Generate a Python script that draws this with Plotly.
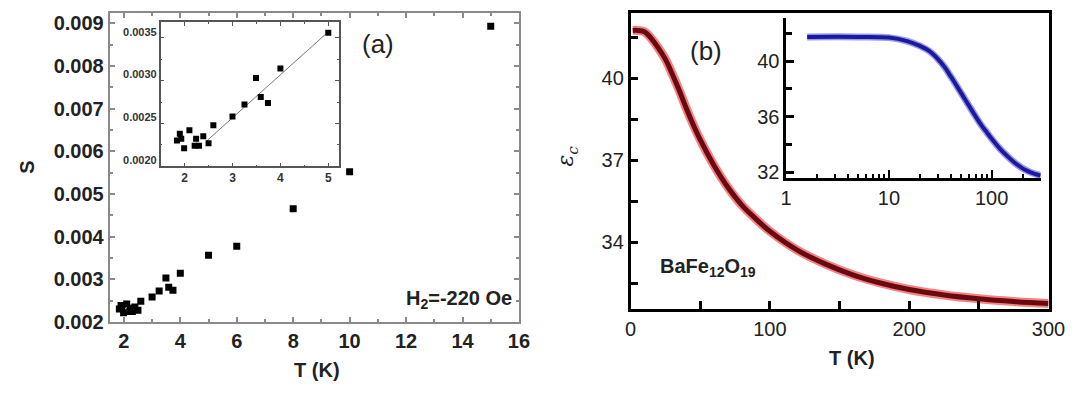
import math
import plotly.graph_objects as go

# ---------------- data ----------------
T_a = [1.84, 1.90, 1.93, 1.99, 2.10, 2.21, 2.24, 2.30, 2.39, 2.50, 2.60, 3.00,
       3.25, 3.49, 3.59, 3.74, 4.00, 5.00, 6.00, 8.00, 10.0, 15.0]
S_a = [0.00230, 0.00238, 0.00232, 0.00221, 0.00242, 0.00224, 0.00232, 0.00224,
       0.00235, 0.00227, 0.00248, 0.00258, 0.00272, 0.00303, 0.00281, 0.00274,
       0.00314, 0.00356, 0.00377, 0.00465, 0.00552, 0.00893]
inset_T_max = 5.0
fit_T = [2.45, 5.0]
fit_S = [0.00229, 0.00357]

T_b = [1.6, 5, 10, 15, 20, 25, 30, 35, 40, 45, 50, 60, 70, 80, 90, 100, 120,
       140, 160, 180, 200, 225, 250, 275, 300]
eps_b = [41.75, 41.75, 41.70, 41.45, 41.10, 40.70, 40.15, 39.55, 38.90, 38.30,
         37.75, 36.80, 36.00, 35.35, 34.85, 34.40, 33.70, 33.20, 32.80, 32.50,
         32.27, 32.07, 31.93, 31.83, 31.76]

W, H = 1090, 397
def px(x):
    return x / W
def py(y):
    return 1 - y / H

FONT = "Liberation Sans, Arial, Helvetica, sans-serif"
GRAY = "#8a8a8a"

fig = go.Figure()

fig.add_trace(go.Scatter(x=T_a, y=S_a, mode="markers",
                         marker=dict(symbol="square", size=7, color="black"),
                         xaxis="x", yaxis="y", hoverinfo="skip"))
ins_T = [t for t in T_a if t <= inset_T_max]
ins_S = [s for t, s in zip(T_a, S_a) if t <= inset_T_max]
fig.add_trace(go.Scatter(x=fit_T, y=fit_S, mode="lines",
                         line=dict(color="#777777", width=1),
                         xaxis="x2", yaxis="y2", hoverinfo="skip"))
fig.add_trace(go.Scatter(x=ins_T, y=ins_S, mode="markers",
                         marker=dict(symbol="square", size=6, color="black"),
                         xaxis="x2", yaxis="y2", hoverinfo="skip"))

fig.add_trace(go.Scatter(x=T_b, y=eps_b, mode="lines",
                         line=dict(color="rgba(235,30,30,0.55)", width=9, shape="spline"),
                         xaxis="x3", yaxis="y3", hoverinfo="skip"))
fig.add_trace(go.Scatter(x=T_b, y=eps_b, mode="lines",
                         line=dict(color="#6a0a10", width=5, shape="spline"),
                         xaxis="x3", yaxis="y3", hoverinfo="skip"))
fig.add_trace(go.Scatter(x=T_b, y=eps_b, mode="lines",
                         line=dict(color="rgba(70,70,235,0.55)", width=7, shape="spline"),
                         xaxis="x4", yaxis="y4", hoverinfo="skip"))
fig.add_trace(go.Scatter(x=T_b, y=eps_b, mode="lines",
                         line=dict(color="#1a1a9a", width=4, shape="spline"),
                         xaxis="x4", yaxis="y4", hoverinfo="skip"))

bold20 = dict(family=FONT, size=20, color="#222", weight="bold")
reg20 = dict(family=FONT, size=20, color="#222")

fig.update_layout(
    width=W, height=H, margin=dict(l=0, r=0, t=0, b=0),
    paper_bgcolor="white", plot_bgcolor="white", showlegend=False,
    xaxis=dict(domain=[px(106), px(524)], range=[1.5, 16], anchor="y",
               tick0=0, dtick=2, ticks="inside", ticklen=5, tickwidth=1.5,
               tickcolor=GRAY, showline=True, linecolor=GRAY, linewidth=2,
               mirror="allticks", showgrid=False, zeroline=False,
               minor=dict(tick0=0, dtick=1, ticks="inside", ticklen=3,
                          tickwidth=1.5, tickcolor=GRAY),
               tickfont=bold20),
    yaxis=dict(domain=[py(331), py(13)], range=[0.002, 0.00925], anchor="x",
               tick0=0, dtick=0.001, tickformat=".3f", ticks="inside",
               ticklen=5, tickwidth=1.5, tickcolor=GRAY, showline=True,
               linecolor=GRAY, linewidth=2, mirror="allticks", showgrid=False,
               zeroline=False,
               minor=dict(tick0=0, dtick=0.0005, ticks="inside", ticklen=3,
                          tickwidth=1.5, tickcolor=GRAY),
               tickfont=bold20),
    xaxis2=dict(domain=[px(158), px(340)], range=[1.5, 5.22], anchor="y2",
                tick0=0, dtick=1, ticks="inside", ticklen=4, tickwidth=1,
                tickcolor="#555", showline=True, linecolor="#555", linewidth=1.5,
                mirror="allticks", showgrid=False, zeroline=False,
                minor=dict(tick0=0, dtick=0.5, ticks="inside", ticklen=2,
                           tickwidth=1, tickcolor="#555"),
                tickfont=dict(family=FONT, size=12, color="#333", weight="bold")),
    yaxis2=dict(domain=[py(171), py(23)], range=[0.0020, 0.00368], anchor="x2",
                tick0=0, dtick=0.0005, tickformat=".4f", ticks="inside",
                ticklen=4, tickwidth=1, tickcolor="#555", showline=True,
                linecolor="#555", linewidth=1.5, mirror="allticks",
                showgrid=False, zeroline=False, ticklabelshift=-6,
                minor=dict(tick0=0, dtick=0.00025, ticks="inside", ticklen=2,
                           tickwidth=1, tickcolor="#555"),
                tickfont=dict(family=FONT, size=11, color="#333", weight="bold")),
    xaxis3=dict(domain=[px(638), px(1065)], range=[0, 300], anchor="y3",
                tick0=0, dtick=100, ticks="inside", ticklen=8, tickwidth=2.5,
                tickcolor="black", showline=True, linecolor="black",
                linewidth=2.5, mirror=True, showgrid=False, zeroline=False,
                minor=dict(tick0=0, dtick=50, ticks="inside", ticklen=8,
                           tickwidth=2.5, tickcolor="black"),
                tickfont=reg20),
    yaxis3=dict(domain=[py(318), py(13)], range=[31.55, 42.4], anchor="x3",
                tick0=34, dtick=3, ticks="inside", ticklen=8, tickwidth=2.5,
                tickcolor="black", showline=True, linecolor="black",
                linewidth=2.5, mirror=True, showgrid=False, zeroline=False,
                minor=dict(tick0=32.5, dtick=1.5, ticks="inside", ticklen=8,
                           tickwidth=2.5, tickcolor="black"),
                tickfont=reg20),
    xaxis4=dict(type="log", domain=[px(797), px(1057)],
                range=[0, math.log10(300)], anchor="y4",
                tickvals=[1, 10, 100], ticktext=["1", "10", "100"],
                ticks="inside", ticklen=8, tickwidth=2, tickcolor="black",
                showline=True, linecolor="black", linewidth=2.5, mirror=False,
                showgrid=False, zeroline=False,
                minor=dict(tickvals=[2, 3, 4, 5, 6, 7, 8, 9, 20, 30, 40, 50, 60,
                                     70, 80, 90, 200, 300],
                           ticks="inside", ticklen=4, tickwidth=2,
                           tickcolor="black"),
                tickfont=reg20),
    yaxis4=dict(domain=[py(183), py(18)], range=[31.58, 43.15], anchor="x4",
                tick0=32, dtick=4, ticks="inside", ticklen=8, tickwidth=2.5,
                tickcolor="black", showline=True, linecolor="black",
                linewidth=2.5, mirror=False, showgrid=False, zeroline=False,
                minor=dict(tick0=0, dtick=2, ticks="inside", ticklen=6,
                           tickwidth=2.5, tickcolor="black"),
                tickfont=reg20),
)

def ann(text, x, y, font, xanchor="center", yanchor="middle", angle=0):
    fig.add_annotation(text=text, x=px(x), y=py(y), xref="paper", yref="paper",
                       showarrow=False, xanchor=xanchor, yanchor=yanchor,
                       textangle=angle, font=font)

ann("S", 22, 172, bold20, angle=-90)
ann("T (K)", 318, 381, bold20)
ann("(a)", 380, 45, dict(family=FONT, size=26, color="#222"))
ann("H<sub>2</sub>=-220 Oe", 519, 308, bold20, xanchor="right")
ann("(b)", 715, 52, dict(family=FONT, size=26, color="#222"))
ann("ε<sub>c</sub>", 574, 160,
    dict(family="DejaVu Serif, serif", size=22, color="#222", style="italic"),
    angle=-90)
ann("BaFe<sub>12</sub>O<sub>19</sub>", 666, 275, bold20, xanchor="left")
ann("T (K)", 864, 368, bold20)

fig.write_html("out.html")
